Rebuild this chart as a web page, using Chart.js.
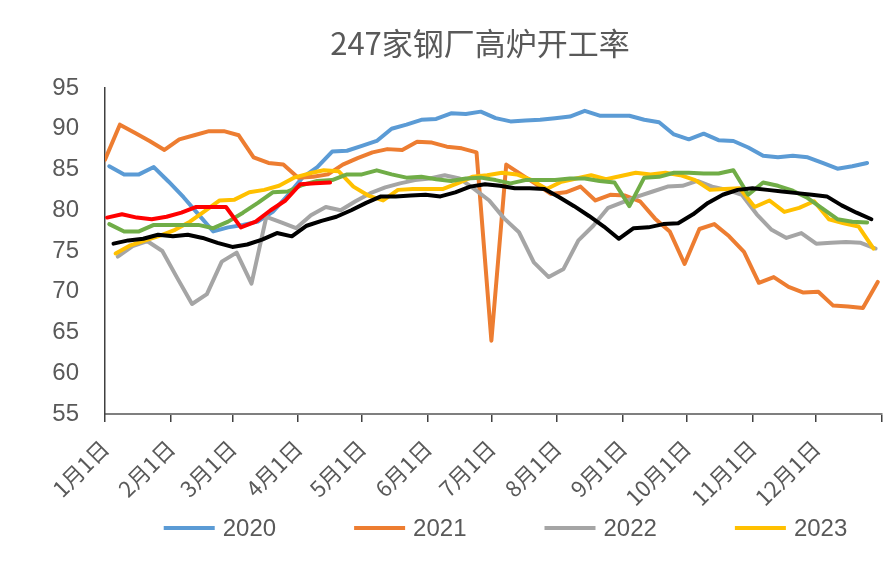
<!DOCTYPE html>
<html><head><meta charset="utf-8">
<script src="https://cdn.jsdelivr.net/npm/chart.js@4.4.0/dist/chart.umd.min.js"></script>
<style>html,body{margin:0;padding:0;background:#fff;}#wrap{width:888px;height:561px;position:relative;}</style>
</head><body><div id="wrap"><canvas id="c" width="888" height="561"></canvas></div>
<script>
// ---- data ----
const chartTitle = "247家钢厂高炉开工率";
const monthStartDays = [0,31,60,91,121,152,182,213,244,274,305,335,366];
const monthLabels = ["1月1日","2月1日","3月1日","4月1日","5月1日","6月1日","7月1日","8月1日","9月1日","10月1日","11月1日","12月1日",""];
const legendNames = ["2020","2021","2022","2023"];

const start2020 = 2;
const values2020 = [85.4,84.4,84.4,85.3,83.5,81.6,79.5,77.4,77.9,78.2,78.6,79.8,81.8,84.0,85.3,87.2,87.3,87.9,88.5,90.0,90.5,91.1,91.2,91.9,91.8,92.1,91.3,90.9,91.0,91.1,91.3,91.5,92.2,91.6,91.6,91.6,91.1,90.8,89.3,88.7,89.4,88.6,88.5,87.7,86.7,86.5,86.7,86.5,85.8,85.1,85.4,85.8];

const start2021 = 0;
const values2021 = [86.2,90.5,89.5,88.5,87.4,88.7,89.2,89.7,89.7,89.2,86.5,85.8,85.6,84.0,84.1,84.4,85.6,86.4,87.1,87.5,87.4,88.4,88.3,87.8,87.6,87.1,64.0,85.6,84.4,83.2,82.0,82.2,82.9,81.2,81.9,81.8,81.1,79.0,77.4,73.4,77.7,78.3,76.8,74.9,71.1,71.8,70.6,69.9,70.0,68.3,68.2,68.0,71.2];

const start2022 = 6;
const values2022 = [74.3,75.6,76.2,75.0,71.7,68.5,69.7,73.7,74.8,71.0,79.2,78.5,77.8,79.4,80.4,80.0,81.1,82.1,82.8,83.3,83.7,83.9,84.3,83.9,82.6,81.2,79.0,77.3,73.6,71.8,72.8,76.3,78.1,80.3,81.0,81.7,82.3,82.9,83.0,83.6,82.9,82.5,81.9,79.5,77.6,76.6,77.2,75.9,76.0,76.1,76.0,75.3];

const start2023 = 5;
const values2023 = [74.7,75.7,76.3,76.9,77.6,78.6,79.9,81.2,81.3,82.2,82.5,83.0,84.0,84.5,84.9,84.8,82.9,81.8,81.2,82.5,82.6,82.6,82.6,83.3,84.1,84.3,84.6,84.4,83.7,82.6,83.5,83.9,84.3,83.8,84.2,84.6,84.4,84.6,84.3,83.7,82.5,82.6,82.7,80.4,81.2,79.8,80.3,81.1,78.9,78.4,78.0,75.3];

const start2024 = 2;
const values2024 = [78.3,77.4,77.4,78.2,78.2,78.2,78.2,77.8,78.6,79.7,80.9,82.2,82.3,83.1,83.6,83.7,84.4,84.4,84.9,84.4,84.0,84.1,83.8,83.6,83.9,84.0,83.7,83.3,83.7,83.7,83.7,83.9,83.9,83.6,83.4,80.5,84.0,84.1,84.6,84.6,84.5,84.5,84.9,81.9,83.4,83.0,82.4,81.5,80.2,78.9,78.6,78.5];

const start2019 = 4;
const values2019 = [75.9,76.3,76.5,77.0,76.8,77.0,76.6,76.0,75.5,75.8,76.4,77.2,76.8,78.1,78.7,79.2,80.0,80.9,81.7,81.7,81.8,81.9,81.7,82.2,82.9,83.2,83.0,82.7,82.7,82.6,81.6,80.5,79.3,78.0,76.5,77.8,77.9,78.3,78.4,79.5,80.9,81.9,82.5,82.7,82.5,82.3,82.1,81.9,81.7,80.6,79.7,78.9];

const start2025 = 1;
const values2025 = [79.1,79.5,79.1,78.9,79.2,79.7,80.4,80.4,80.4,77.9,78.6,80.0,81.2,83.2,83.3,83.4];

// weekly observations -> {x: day of year, y: value}
function weekly(startDay, vals){ return vals.map((v,i)=>({x:startDay+7*i, y:v})); }

const seriesDefs = [
  {label:"2020", start:start2020, vals:values2020, color:"#5B9BD5", order:7},
  {label:"2021", start:start2021, vals:values2021, color:"#ED7D31", order:6},
  {label:"2022", start:start2022, vals:values2022, color:"#A5A5A5", order:5},
  {label:"2023", start:start2023, vals:values2023, color:"#FFC000", order:4},
  {label:"2024", start:start2024, vals:values2024, color:"#70AD47", order:3},
  {label:"2019", start:start2019, vals:values2019, color:"#000000", order:2},
  {label:"2025", start:start2025, vals:values2025, color:"#FF0000", order:1}
];

const TXT = "#595959";

const titlePlugin = {
  id:'topTitle',
  afterDraw(chart){
    const ctx = chart.ctx;
    ctx.save();
    ctx.font = '31px "Noto Sans CJK SC", sans-serif';
    ctx.fillStyle = TXT; ctx.textAlign='center'; ctx.textBaseline='middle';
    ctx.fillText(chartTitle, 480, 43);
    ctx.restore();
  }
};

const bottomLegend = {
  id:'bottomLegend',
  afterDraw(chart){
    const ctx = chart.ctx;
    const items = chart.data.datasets.filter(d=>legendNames.includes(d.label));
    ctx.save();
    ctx.font = '24px "Liberation Sans", Arial, sans-serif';
    const lineLen = 51, gap = 8, spacing = 78;
    const widths = items.map(d=>lineLen+gap+ctx.measureText(d.label).width);
    const total = widths.reduce((a,b)=>a+b,0)+spacing*(items.length-1);
    const ca = chart.chartArea;
    let x = (ca.left+ca.right)/2 + 12 - total/2;
    const y = 528;
    items.forEach((d,i)=>{
      ctx.strokeStyle = d.borderColor; ctx.lineWidth = 4; ctx.lineCap='butt';
      ctx.beginPath(); ctx.moveTo(x,y); ctx.lineTo(x+lineLen,y); ctx.stroke();
      ctx.fillStyle = TXT; ctx.textAlign='left'; ctx.textBaseline='middle';
      ctx.fillText(d.label, x+lineLen+gap, y+1);
      x += widths[i]+spacing;
    });
    ctx.restore();
  }
};

new Chart(document.getElementById('c'), {
  type:'line',
  data:{
    datasets: seriesDefs.map(s=>({
      label:s.label, data:weekly(s.start,s.vals), borderColor:s.color, backgroundColor:s.color,
      borderWidth:4, pointRadius:0, tension:0, fill:false, order:s.order,
      borderCapStyle:'round', borderJoinStyle:'round'
    }))
  },
  options:{
    responsive:false, animation:false, devicePixelRatio:1,
    layout:{padding:{left:0, right:6, top:88, bottom:0}},
    plugins:{
      legend:{display:false},
      tooltip:{enabled:false},
      title:{display:false}
    },
    scales:{
      x:{
        type:'linear', min:0, max:366,
        afterBuildTicks(scale){ scale.ticks = monthStartDays.map(v=>({value:v})); },
        afterFit(scale){ scale.height = 147; scale.paddingRight = 0; scale.paddingLeft = 0; },
        ticks:{autoSkip:false, maxRotation:45, minRotation:45, color:TXT, padding:13,
          font:{family:'"Noto Sans CJK SC", sans-serif', size:22},
          callback:(v,i)=>monthLabels[i]},
        grid:{display:true, drawOnChartArea:false, drawTicks:true, tickLength:8, color:'#404040', lineWidth:1.5},
        border:{display:true, color:'#7F7F7F', width:2}
      },
      y:{
        min:55, max:95,
        afterFit(scale){ scale.width = 105; scale.paddingTop = 0; scale.paddingBottom = 0; },
        ticks:{stepSize:5, color:TXT, padding:18, font:{family:'"Liberation Sans", Arial, sans-serif', size:24}},
        grid:{display:false},
        border:{display:true, color:'#404040', width:1.5}
      }
    }
  },
  plugins:[titlePlugin, bottomLegend]
});
</script></body></html>
